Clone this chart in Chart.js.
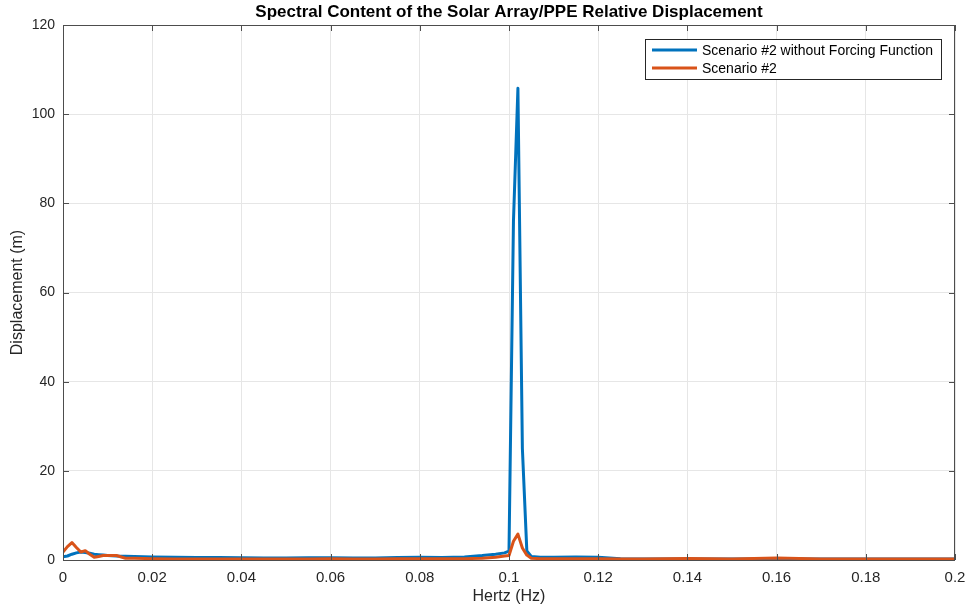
<!DOCTYPE html>
<html>
<head>
<meta charset="utf-8">
<title>Spectral Content</title>
<script src="https://cdn.jsdelivr.net/npm/chart.js@4.4.1/dist/chart.umd.min.js"></script>
<style>
  body { margin: 0; background: #fff; }
  #c { display: block; }
</style>
</head>
<body>
<canvas id="c" width="969" height="611"></canvas>
<script>
// frequency (Hz) - denser where the curves move
var freq = [0, 0.001, 0.002, 0.003, 0.004, 0.005, 0.006, 0.007, 0.008, 0.009, 0.010,
  0.012, 0.014, 0.016, 0.020, 0.025, 0.030, 0.035, 0.040, 0.045, 0.050, 0.055, 0.060,
  0.065, 0.070, 0.075, 0.080, 0.085, 0.090, 0.094, 0.097, 0.099, 0.100, 0.101, 0.102,
  0.103, 0.104, 0.105, 0.107, 0.110, 0.115, 0.120, 0.125, 0.130, 0.140, 0.150, 0.160,
  0.170, 0.180, 0.190, 0.200];

// Scenario #2 without Forcing Function
var noForcing = [0.7, 0.9, 1.3, 1.6, 1.8, 1.7, 1.5, 1.3, 1.2, 1.1, 1.0,
  0.9, 0.85, 0.8, 0.7, 0.6, 0.55, 0.55, 0.5, 0.45, 0.45, 0.5, 0.5,
  0.45, 0.45, 0.55, 0.6, 0.55, 0.7, 1.0, 1.3, 1.6, 2.0, 76, 105.8,
  25, 2.0, 0.8, 0.6, 0.6, 0.7, 0.6, 0.3, 0.25, 0.25, 0.2, 0.2,
  0.2, 0.2, 0.2, 0.2];

// Scenario #2
var scenario2 = [1.8, 3.0, 3.9, 2.8, 1.8, 2.1, 1.3, 0.6, 0.8, 1.0, 1.0,
  1.0, 0.4, 0.4, 0.3, 0.25, 0.25, 0.25, 0.25, 0.25, 0.25, 0.25, 0.3,
  0.25, 0.25, 0.3, 0.3, 0.3, 0.3, 0.4, 0.6, 0.9, 1.0, 4.2, 5.8,
  2.7, 1.1, 0.4, 0.3, 0.3, 0.3, 0.3, 0.25, 0.25, 0.35, 0.25, 0.45,
  0.25, 0.25, 0.2, 0.2];

var seriesNames = ['Scenario #2 without Forcing Function', 'Scenario #2'];
var seriesColors = ['#0072BD', '#D95319'];

var txt = '#262626';
var fontFam = '"Liberation Sans", Arial, Helvetica, sans-serif';

function pts(arr) {
  return freq.map(function (f, i) { return { x: f, y: arr[i] }; });
}

var matlabFrame = {
  id: 'matlabFrame',
  afterDraw: function (chart) {
    var ctx = chart.ctx, a = chart.chartArea;
    var xs = chart.scales.x, ys = chart.scales.y;
    ctx.save();
    ctx.strokeStyle = '#4d4d4d';
    ctx.lineWidth = 1;
    // inward ticks, both sides like matlab
    ctx.beginPath();
    xs.ticks.forEach(function (t) {
      var px = Math.round(xs.getPixelForValue(t.value)) + 0.5;
      ctx.moveTo(px, a.bottom); ctx.lineTo(px, a.bottom - 6);
      ctx.moveTo(px, a.top); ctx.lineTo(px, a.top + 6);
    });
    ys.ticks.forEach(function (t) {
      var py = Math.round(ys.getPixelForValue(t.value)) + 0.5;
      ctx.moveTo(a.left, py); ctx.lineTo(a.left + 6, py);
      ctx.moveTo(a.right, py); ctx.lineTo(a.right - 6, py);
    });
    ctx.stroke();
    ctx.strokeRect(Math.round(a.left) + 0.5, Math.round(a.top) + 0.5,
      Math.round(a.right - a.left) - 1, Math.round(a.bottom - a.top));

    // title + axis titles
    ctx.fillStyle = '#000';
    ctx.textAlign = 'center';
    ctx.textBaseline = 'middle';
    ctx.font = 'bold 17px ' + fontFam;
    ctx.fillText('Spectral Content of the Solar Array/PPE Relative Displacement', (a.left + a.right) / 2, 12);
    ctx.fillStyle = txt;
    ctx.font = '16px ' + fontFam;
    ctx.fillText('Hertz (Hz)', (a.left + a.right) / 2, 597);
    ctx.save();
    ctx.translate(18, (a.top + a.bottom) / 2);
    ctx.rotate(-Math.PI / 2);
    ctx.fillText('Displacement (m)', 0, 0);
    ctx.restore();

    // legend box
    var lx = 645.5, ly = 39.5, lw = 296, lh = 40;
    ctx.fillStyle = '#fff';
    ctx.fillRect(lx, ly, lw, lh);
    ctx.strokeStyle = '#262626';
    ctx.strokeRect(lx, ly, lw, lh);
    ctx.font = '14px ' + fontFam;
    ctx.textAlign = 'left';
    chart.data.datasets.forEach(function (ds, i) {
      var yy = 50 + i * 18;
      ctx.strokeStyle = ds.borderColor;
      ctx.lineWidth = 3;
      ctx.beginPath();
      ctx.moveTo(652, yy); ctx.lineTo(697, yy);
      ctx.stroke();
      ctx.fillStyle = '#000';
      ctx.fillText(ds.label, 702, yy + 1);
    });
    ctx.restore();
  }
};

new Chart(document.getElementById('c'), {
  type: 'line',
  data: {
    datasets: [
      { label: seriesNames[0], data: pts(noForcing), borderColor: seriesColors[0], borderWidth: 3, order: 2 },
      { label: seriesNames[1], data: pts(scenario2), borderColor: seriesColors[1], borderWidth: 3, order: 1 }
    ]
  },
  options: {
    responsive: false,
    animation: false,
    devicePixelRatio: 1,
    layout: { padding: { left: 0, right: 14, top: 25, bottom: 0 } },
    elements: {
      point: { radius: 0, hoverRadius: 0 },
      line: { tension: 0, borderJoinStyle: 'round', borderCapStyle: 'round' }
    },
    plugins: {
      legend: { display: false },
      title: { display: false },
      tooltip: { enabled: false }
    },
    scales: {
      x: {
        type: 'linear',
        min: 0, max: 0.2,
        border: { display: false },
        grid: { color: '#e6e6e6', drawTicks: false },
        ticks: {
          stepSize: 0.02,
          padding: 9,
          color: txt,
          maxRotation: 0,
          font: { family: fontFam, size: 15 },
          callback: function (v) { return String(Number(v.toFixed(2))); }
        },
        afterFit: function (s) { s.height = 51; s.paddingLeft = 0; s.paddingRight = 0; }
      },
      y: {
        min: 0, max: 120,
        border: { display: false },
        grid: { color: '#e6e6e6', drawTicks: false },
        ticks: {
          stepSize: 20,
          padding: 8,
          color: txt,
          font: { family: fontFam, size: 14 }
        },
        afterFit: function (s) { s.width = 63; s.paddingTop = 0; s.paddingBottom = 0; }
      }
    }
  },
  plugins: [matlabFrame]
});
</script>
</body>
</html>
